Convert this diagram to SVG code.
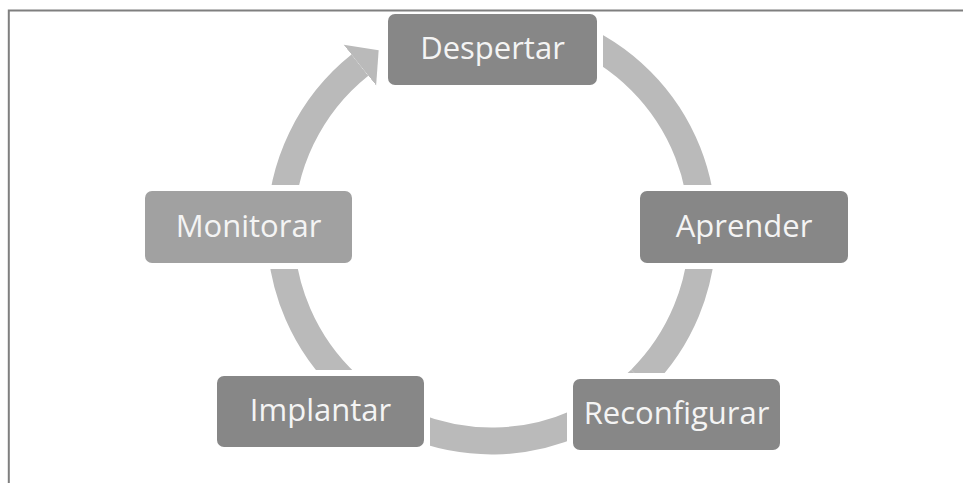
<svg xmlns="http://www.w3.org/2000/svg" width="963" height="483" viewBox="0 0 963 483">
  <style>
    .box { fill: #878787; }
    .box.light { fill: #a1a1a1; }
    .label { font-family: "Open Sans", "Liberation Sans", sans-serif; font-size: 31px; fill: #f4f4f4; text-anchor: middle; }
    .arc { fill: none; stroke: #bababa; stroke-width: 27; stroke-linecap: butt; }
    .frame { stroke: #7f7f7f; stroke-width: 2; fill: none; }
  </style>
  <defs>
    <marker id="head" markerUnits="userSpaceOnUse" markerWidth="30" markerHeight="60" viewBox="0 -30 30 60" refX="0" refY="0" orient="auto">
      <path d="M0,-26 L24,0 L0,26 Z" fill="#bababa"/>
    </marker>
    <mask id="gaps" maskUnits="userSpaceOnUse" x="0" y="0" width="963" height="483">
      <rect x="0" y="0" width="963" height="483" fill="#fff"/>
      <rect x="382" y="0" width="221" height="91" fill="#000"/>
      <rect x="634" y="185" width="220" height="84" fill="#000"/>
      <rect x="567" y="373" width="219" height="83" fill="#000"/>
      <rect x="211" y="370" width="219" height="83" fill="#000"/>
      <rect x="139" y="185" width="219" height="84" fill="#000"/>
    </mask>
  </defs>
  <rect x="0" y="0" width="963" height="483" fill="#ffffff"/>
  <path class="frame" d="M8.8,483 L8.8,10.5 L963,10.5"/>

  <g id="connectors" mask="url(#gaps)">
    <path class="arc" d="M491.5,19 A211,211 0 0 1 702.5,230"/>
    <path class="arc" d="M702.5,230 A211,211 0 0 1 640.7,379.2"/>
    <path class="arc" d="M640.7,379.2 A211,211 0 0 1 347.6,384.3"/>
    <path class="arc" d="M347.6,384.3 A211,211 0 0 1 280.5,230"/>
    <path class="arc" d="M280.5,230 A211,211 0 0 1 359.9,65.1" marker-end="url(#head)"/>
  </g>

  <g id="despertar">
    <rect class="box" x="388" y="14" width="209" height="71" rx="7"/>
    <text class="label" x="492.5" y="59">Despertar</text>
  </g>
  <g id="aprender">
    <rect class="box" x="640" y="191" width="208" height="72" rx="7"/>
    <text class="label" x="744" y="236.5">Aprender</text>
  </g>
  <g id="reconfigurar">
    <rect class="box" x="573" y="379" width="207" height="71" rx="7"/>
    <text class="label" x="676.5" y="424">Reconfigurar</text>
  </g>
  <g id="implantar">
    <rect class="box" x="217" y="376" width="207" height="71" rx="7"/>
    <text class="label" x="320.5" y="421">Implantar</text>
  </g>
  <g id="monitorar">
    <rect class="box light" x="145" y="191" width="207" height="72" rx="7"/>
    <text class="label" x="248.5" y="236.5">Monitorar</text>
  </g>
</svg>
